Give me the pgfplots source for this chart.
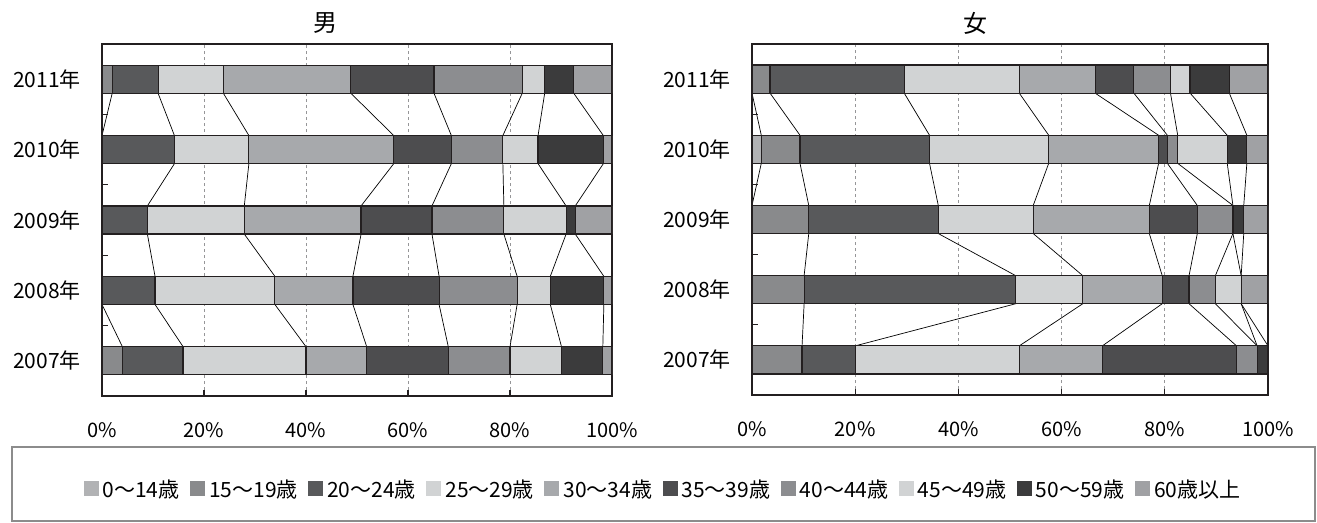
\documentclass[border=0pt]{standalone}
\usepackage{fontspec}
\setmainfont{Noto Sans CJK JP}
\usepackage{pgfplots}
\usepackage{pgfplotstable}
\pgfplotsset{compat=1.18}

\definecolor{c1}{RGB}{177,178,180}
\definecolor{c2}{RGB}{137,138,140}
\definecolor{c3}{RGB}{88,89,91}
\definecolor{c4}{RGB}{209,211,212}
\definecolor{c5}{RGB}{167,169,172}
\definecolor{c6}{RGB}{77,77,79}
\definecolor{c7}{RGB}{140,141,144}
\definecolor{c8}{RGB}{209,211,212}
\definecolor{c9}{RGB}{59,59,60}
\definecolor{c10}{RGB}{160,161,164}
\definecolor{edge}{RGB}{35,31,32}
\definecolor{gridc}{RGB}{150,150,152}
\definecolor{boxc}{RGB}{140,140,140}

% rows: each year twice (top and bottom edge of its bar), 2011 at top (yc=4)
\pgfplotstableread{
yc yy a1 a2 a3 a4 a5 a6 a7 a8 a9 a10
4 4.2 0 2.0 9.0 12.8 25.0 16.3 17.3 4.4 5.7 7.5
4 3.8 0 2.0 9.0 12.8 25.0 16.3 17.3 4.4 5.7 7.5
3 3.2 0 0 14.2 14.6 28.4 11.3 10.1 6.9 12.8 1.7
3 2.8 0 0 14.2 14.6 28.4 11.3 10.1 6.9 12.8 1.7
2 2.2 0 0 8.9 19.0 22.9 13.9 14.1 12.2 1.8 7.2
2 1.8 0 0 8.9 19.0 22.9 13.9 14.1 12.2 1.8 7.2
1 1.2 0 0 10.4 23.5 15.3 16.9 15.3 6.5 10.5 1.6
1 0.8 0 0 10.4 23.5 15.3 16.9 15.3 6.5 10.5 1.6
0 0.2 0 4.0 11.9 24.1 11.9 16.0 12.1 10.1 8.1 1.8
0 -0.2 0 4.0 11.9 24.1 11.9 16.0 12.1 10.1 8.1 1.8
}\male

\pgfplotstableread{
yc yy a1 a2 a3 a4 a5 a6 a7 a8 a9 a10
4 4.2 0 3.5 26.0 22.3 14.7 7.5 7.1 3.8 7.6 7.5
4 3.8 0 3.5 26.0 22.3 14.7 7.5 7.1 3.8 7.6 7.5
3 3.2 1.8 7.5 25.1 23.1 21.3 1.7 2.0 9.6 3.8 4.1
3 2.8 1.8 7.5 25.1 23.1 21.3 1.7 2.0 9.6 3.8 4.1
2 2.2 0 11.0 25.1 18.4 22.5 9.3 6.9 0 2.1 4.7
2 1.8 0 11.0 25.1 18.4 22.5 9.3 6.9 0 2.1 4.7
1 1.2 0 10.1 41.0 13.0 15.4 5.2 5.1 5.0 0 5.2
1 0.8 0 10.1 41.0 13.0 15.4 5.2 5.1 5.0 0 5.2
0 0.2 0 9.7 10.3 31.8 16.1 26.0 4.0 0 2.1 0
0 -0.2 0 9.7 10.3 31.8 16.1 26.0 4.0 0 2.1 0
}\female

\pgfplotsset{
  base/.style={scale only axis, anchor=south west,
    xmin=0, xmax=100, ymin=-0.5, ymax=4.5},
  linesax/.style={base, stack plots=x,
    xtick={20,40,60,80,100}, xticklabels={}, ytick=\empty,
    xmajorgrids, grid style={dashed, color=gridc, line width=1pt},
    axis line style={draw=none}, major tick length=0pt},
  barsax/.style={base, xbar stacked, bar width=0.4,
    axis line style={color=edge, line width=1.6pt},
    tick align=inside, xtick pos=bottom, ytick pos=left,
    major tick length=6pt,
    tick style={color=edge, line width=1.2pt},
    xtick={0,20,40,60,80,100},
    xticklabels={0\%,20\%,40\%,60\%,80\%,100\%},
    xticklabel style={anchor=base, inner sep=0pt, yshift=-41pt,
      font=\fontsize{20}{22}\selectfont},
    ytick={0.5,1.5,2.5,3.5}, yticklabels={},
    extra y ticks={0,1,2,3,4},
    extra y tick labels={2007年,2008年,2009年,2010年,2011年},
    extra y tick style={major tick length=0pt,
      yticklabel style={anchor=east, inner sep=0pt, xshift=-21pt,
      font=\fontsize{21}{23}\selectfont}}},
  sqlegend/.style={legend image code/.code={\fill[##1,draw=none] (0pt,-7pt) rectangle (15pt,8pt);}},
  segs/.style={draw=edge, line width=1.2pt, sqlegend},
  slines/.style={color=black, line width=0.7pt, no marks}
}

\begin{document}
\begin{tikzpicture}
\path[use as bounding box] (0,0) rectangle (1317pt,-522pt);
\draw[color=boxc, line width=1.6pt] (12pt,-447pt) rectangle (1315pt,-521pt);

% ---------- left (male) ----------
\begin{axis}[linesax, at={(102pt,-396pt)}, width=510pt, height=352pt]
\pgfplotsinvokeforeach{1,...,9}{\addplot[slines] table[x=a#1, y=yy]{\male};}
\end{axis}
\begin{axis}[barsax, at={(102pt,-396pt)}, width=510pt, height=352pt,
  legend style={at={(1.102,-0.265)}, anchor=center, draw=none, fill=none,
    legend columns=10, font=\fontsize{21}{23}\selectfont,
    nodes={inner sep=4pt},
    /tikz/every even column/.append style={column sep=6.5pt}},
  legend entries={0～14歳,15～19歳,20～24歳,25～29歳,30～34歳,35～39歳,40～44歳,45～49歳,50～59歳,60歳以上}]
\pgfplotsinvokeforeach{1,...,10}{\addplot[segs, fill=c#1] table[x=a#1, y=yc]{\male};}
\end{axis}

% ---------- right (female) ----------
\begin{axis}[linesax, at={(752pt,-395pt)}, width=516pt, height=351pt]
\pgfplotsinvokeforeach{1,...,9}{\addplot[slines] table[x=a#1, y=yy]{\female};}
\end{axis}
\begin{axis}[barsax, at={(752pt,-395pt)}, width=516pt, height=351pt]
\pgfplotsinvokeforeach{1,...,10}{\addplot[segs, fill=c#1] table[x=a#1, y=yc]{\female};}
\end{axis}

\node at (325pt,-23pt) {\fontsize{24}{26}\selectfont 男};
\node at (975pt,-23pt) {\fontsize{24}{26}\selectfont 女};
\end{tikzpicture}
\end{document}
